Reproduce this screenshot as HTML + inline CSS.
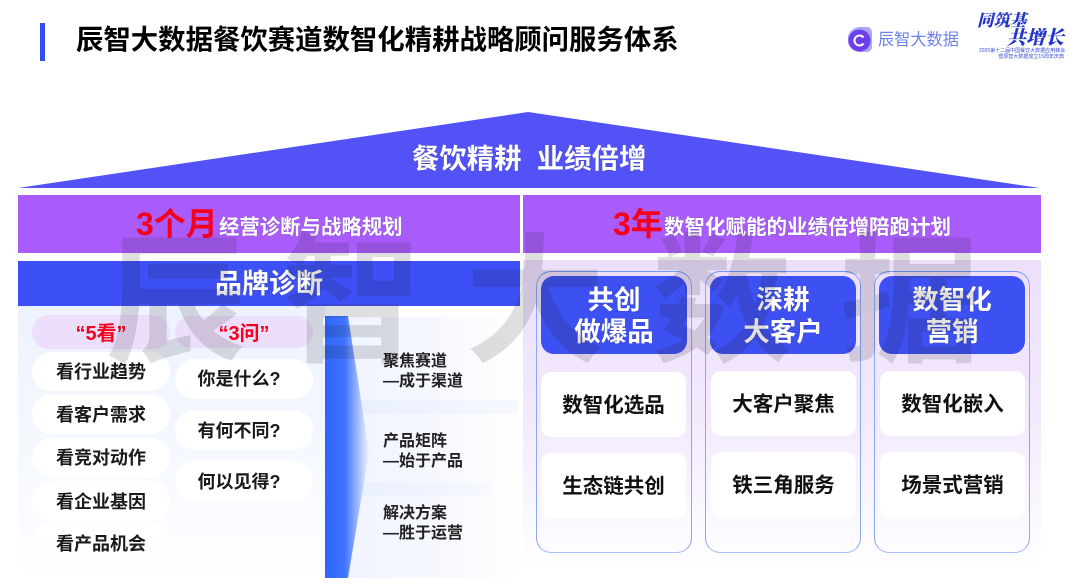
<!DOCTYPE html>
<html lang="zh"><head><meta charset="utf-8"><style>
html,body{margin:0;padding:0;background:#fff}
#p{position:relative;width:1080px;height:588px;overflow:hidden;background:#fff;font-family:"Liberation Sans","Noto Sans CJK SC",sans-serif;font-weight:700;color:#111}
#p div{position:absolute;box-sizing:border-box}
.t{white-space:nowrap;text-align:center;line-height:1}
.w{color:#fff;text-shadow:0 0 1px rgba(60,60,60,.6)}
.pill{background:#fff;border-radius:20px;font-size:18px;display:flex;align-items:center;justify-content:center;color:#1a1a1a;padding-bottom:2px}
.q{padding-right:10px}
.pur{background:#a95cfb}
.col{top:271px;width:156px;height:282px;border:1.5px solid;border-color:#7397f2 #8aa8f5 #a9c0fa;border-radius:15px}
.hd{top:276px;width:146px;height:78px;background:#3d50f2;border-radius:13px;color:#fff;font-size:26.5px;line-height:32px;text-align:center;padding-top:8px;text-shadow:0 0 1px rgba(60,60,60,.6)}
.cd{width:145px;height:65px;background:#fff;border-radius:10px;font-size:20.5px;display:flex;align-items:center;justify-content:center;color:#111;padding-bottom:4px}
.r{font-size:16px;line-height:20px;left:383px;white-space:nowrap;color:#222}
.wm{top:218px;font-size:140px;line-height:170px;font-weight:700;color:rgba(30,30,30,.14);z-index:5}
</style></head><body><div id="p">
<div style="left:40px;top:23px;width:5px;height:38px;background:#2f4ff0"></div>
<div class="t" style="left:76px;top:26px;font-size:27.4px;color:#000;line-height:28px">辰智大数据餐饮赛道数智化精耕战略顾问服务体系</div>

<svg style="position:absolute;left:848px;top:27px" width="25" height="26"><path d="M12 0H18Q24 0 24 6V19Q24 25 18 25H12A12.5 12.5 0 0 1 12 0Z" fill="#a9a6fb"/><circle cx="11.5" cy="13.5" r="11" fill="#6d3df0"/><path d="M15.5 10.5A5 5 0 1 0 15.5 16.5" fill="none" stroke="#fff" stroke-width="2"/></svg>
<div class="t" style="left:878px;top:32px;font-size:16.2px;font-weight:400;color:#6f80f2;line-height:17px">辰智大数据</div>
<div class="t" style="left:977px;top:10px;font-size:16.5px;font-weight:900;color:#2236c8;font-style:italic;font-family:'Noto Serif CJK SC',serif;line-height:18px">同筑基</div>
<div class="t" style="left:1007px;top:26px;font-size:19px;font-weight:900;color:#2236c8;font-style:italic;font-family:'Noto Serif CJK SC',serif;line-height:22px">共增长</div>
<div class="t" style="left:979px;top:48px;font-size:5px;font-weight:400;color:#3b4fd8;line-height:6px;width:85px;text-align:right">2025第十二届中国餐饮大数据应用峰会</div>
<div class="t" style="left:979px;top:54px;font-size:5px;font-weight:400;color:#3b4fd8;line-height:6px;width:85px;text-align:right">暨辰智大数据成立15周年庆典</div>

<svg style="position:absolute;left:0;top:0" width="1080" height="200"><polygon points="18,188 528,112 1040,188" fill="#5252f7"/></svg>
<div class="t w" style="left:412px;top:144px;font-size:27.4px;line-height:30px;white-space:pre">餐饮精耕&#160;&#160;业绩倍增</div>

<div class="pur" style="left:18px;top:195px;width:502px;height:58px"></div>
<div class="pur" style="left:523px;top:195px;width:518px;height:58px"></div>
<div class="t" style="left:136px;top:207px;font-size:32px;color:#f6001c;line-height:34px">3个月</div>
<div class="t w" style="left:219px;top:217px;font-size:20.4px;line-height:22px">经营诊断与战略规划</div>
<div class="t" style="left:613px;top:207px;font-size:32px;color:#f6001c;line-height:34px">3年</div>
<div class="t w" style="left:664px;top:217px;font-size:20.5px;line-height:22px">数智化赋能的业绩倍增陪跑计划</div>

<div style="left:18px;top:261px;width:502px;height:45px;background:#3d50f5"></div>
<div class="t w" style="left:215px;top:269px;font-size:27px;line-height:30px">品牌诊断</div>

<div style="left:18px;top:306px;width:307px;height:272px;background:linear-gradient(#edf3ff,#f3f7ff 45%,#fff)"></div>
<div style="left:340px;top:317px;width:181px;height:261px;background:linear-gradient(90deg,#f0f4ff,#f8f9ff 60%,#fff)"></div>
<div style="left:340px;top:400px;width:178px;height:14px;background:linear-gradient(90deg,#e9effd,#eef3ff 50%,#f8f9ff)"></div>
<div style="left:340px;top:482px;width:150px;height:14px;background:linear-gradient(90deg,#e9effd,#f0f4ff 60%,#f8f9ff)"></div>

<div class="pill" style="left:32px;top:315px;width:138px;height:34px;background:#eddffc;color:#f6001c;font-size:20px">“5看”</div>
<div class="pill" style="left:32px;top:352px;width:138px;height:39px">看行业趋势</div>
<div class="pill" style="left:32px;top:394px;width:138px;height:40px;padding-bottom:0">看客户需求</div>
<div class="pill" style="left:32px;top:438px;width:138px;height:40px">看竞对动作</div>
<div class="pill" style="left:32px;top:481px;width:138px;height:40px;padding-bottom:0">看企业基因</div>
<div class="pill" style="left:32px;top:523px;width:138px;height:40px;padding-bottom:0;background:linear-gradient(#fff,rgba(255,255,255,.3))">看产品机会</div>

<div class="pill" style="left:175px;top:316px;width:138px;height:32px;background:#eddffc;color:#f6001c;font-size:20px">“3问”</div>
<div class="pill q" style="left:175px;top:359px;width:138px;height:40px">你是什么?</div>
<div class="pill q" style="left:175px;top:410px;width:138px;height:40px;padding-bottom:0">有何不同?</div>
<div class="pill q" style="left:175px;top:461px;width:138px;height:41px">何以见得?</div>

<svg style="position:absolute;left:325px;top:316px" width="50" height="262"><defs><linearGradient id="g" x1="0" x2="1" y1="0" y2="0"><stop offset="0" stop-color="#2e64fb"/><stop offset=".45" stop-color="#3f74ff"/><stop offset="1" stop-color="#f0f4ff"/></linearGradient></defs><polygon points="0,0 23,0 44,136 23,262 0,262" fill="url(#g)"/></svg>

<div class="r" style="top:352px">聚焦赛道<br>—成于渠道</div>
<div class="r" style="top:432px">产品矩阵<br>—始于产品</div>
<div class="r" style="top:504px">解决方案<br>—胜于运营</div>

<div style="left:523px;top:260px;width:518px;height:318px;background:linear-gradient(#ecdffc,#f3eafd 50%,#fff 97%)"></div>
<div class="col" style="left:536px"></div>
<div class="col" style="left:705px"></div>
<div class="col" style="left:874px"></div>
<div class="hd" style="left:541px">共创<br>做爆品</div>
<div class="hd" style="left:710px">深耕<br>大客户</div>
<div class="hd" style="left:879px">数智化<br>营销</div>
<div class="cd" style="left:541px;top:372px">数智化选品</div>
<div class="cd" style="left:541px;top:453px">生态链共创</div>
<div class="cd" style="left:711px;top:371px">大客户聚焦</div>
<div class="cd" style="left:711px;top:452px">铁三角服务</div>
<div class="cd" style="left:880px;top:371px">数智化嵌入</div>
<div class="cd" style="left:880px;top:452px">场景式营销</div>

<div class="wm" style="left:106px">辰</div>
<div class="wm" style="left:282px">智</div>
<div class="wm" style="left:465px">大</div>
<div class="wm" style="left:652px">数</div>
<div class="wm" style="left:840px">据</div>
</div></body></html>
